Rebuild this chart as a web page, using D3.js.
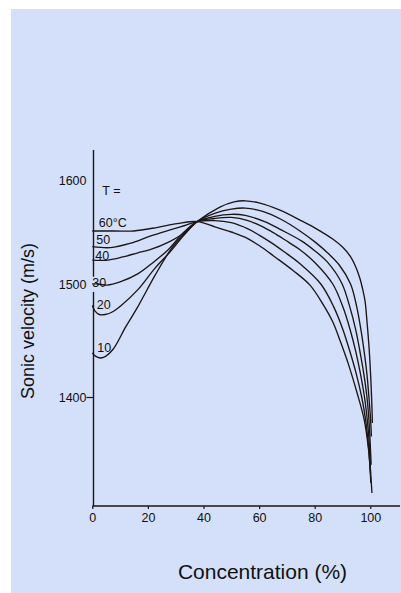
<!DOCTYPE html>
<html>
<head>
<meta charset="utf-8">
<script src="https://cdn.jsdelivr.net/npm/d3@7"></script>
<style>
  html, body { margin: 0; padding: 0; background: #ffffff; }
  svg { display: block; font-family: "Liberation Sans", Arial, sans-serif; }
</style>
</head>
<body>
<svg id="chart" width="401" height="593"></svg>
<script>
// ---- data ----
const temperatures = [10, 20, 30, 40, 50, 60];
const seriesLabels = ["10", "20", "30", "40", "50", "60\u00B0C"];
const xTicks = [0, 20, 40, 60, 80, 100];
const yTicks = [1400, 1500, 1600];

const curve10 = [[0,1439],[2,1435],[4,1435],[7.4,1442],[12,1462],[16.4,1480],[22.5,1508],[28.2,1533],[33,1548],[37.7,1560],
  [45.9,1574],[51,1579],[55,1580],[60,1578],[67.5,1571],[74.7,1561.5],[80,1554],[86.6,1543],[90,1535.5],[92.7,1527],[95,1515],
  [96.3,1505],[97.2,1496],[98.1,1485],[98.8,1467],[99.6,1442],[100.2,1415],[100.6,1390],[100.75,1377]];
const curve20 = [[0,1481],[1,1476],[2.5,1473],[4.6,1473],[7,1475],[10.4,1481],[16.4,1495],[22.5,1515],[28,1531],[33,1547],[37.7,1560],
  [44,1568],[50,1572],[55,1573],[61,1570],[68,1562],[74.7,1551],[80.3,1540],[85,1529],[88.9,1518],[92.9,1500],[95.1,1480],[96.6,1460],
  [97.8,1440],[98.8,1420],[99.5,1400],[100.1,1380],[100.4,1365]];
const curve30 = [[0,1500],[2,1500],[5.3,1499],[10,1502],[16.5,1510],[22,1521],[27.3,1533],[33,1550],[37.7,1560],
  [44,1565],[50,1567],[55,1566],[62,1560],[68,1552],[75.5,1541],[80,1532],[84.6,1521],[89.7,1501],[92.6,1480],[94.7,1460],[96.3,1440],
  [97.7,1420],[98.7,1402],[99.5,1380],[100.3,1340]];
const curve40 = [[0,1523],[5.7,1523],[11,1526],[16.4,1530],[20.8,1533],[28,1541],[33,1549],[37.7,1560],
  [44,1563],[50,1564],[56,1561],[62,1554],[66,1548],[70.7,1540],[74.7,1533],[80.3,1520],[86.5,1500],[90.1,1480],[92.7,1460],
  [94.8,1440],[96.5,1420],[97.9,1400],[98.9,1380],[99.6,1360],[100.1,1332]];
const curve50 = [[0,1536],[6.5,1535],[13.5,1539],[20.8,1546],[28,1552],[33,1556],[37.7,1560],
  [44,1561],[50,1559],[56,1553],[60,1547],[64.2,1540],[69,1531],[74.5,1520],[82.2,1500],[86.8,1480],[90.1,1460],
  [92.7,1440],[95,1420],[96.9,1400],[98.3,1380],[99.4,1355],[100.2,1324]];
const curve60 = [[0,1551],[8,1551],[15,1551],[23.5,1554.5],[30.5,1558],[37.7,1560],
  [44.1,1555],[50,1550],[54.9,1545],[60,1537],[65.7,1526],[72.2,1513],[78.3,1499],[83,1482],[86.6,1466],[89.1,1450],
  [92,1430],[95.2,1404],[97.8,1380],[99.3,1355],[100.1,1333],[100.6,1315]];
const curves = [curve10, curve20, curve30, curve40, curve50, curve60];

// ---- layout ----
const svg = d3.select("#chart");
const W = 401, H = 593;
svg.append("rect").attr("x", 0).attr("y", 0).attr("width", W).attr("height", H).attr("fill", "#ffffff");
svg.append("rect").attr("x", 11).attr("y", 9).attr("width", W - 11).attr("height", H - 9).attr("fill", "#d4dffa");

const x = d3.scaleLinear().domain([0, 100]).range([92.3, 370.3]);
const y = d3.scaleLinear().domain([1303.5, 1400, 1500, 1600, 1629]).range([506, 397, 284, 180, 150]);

const ink = "#1c1616";
const fmt = d3.format("d");

// x axis
const xAxis = d3.axisBottom(x).tickValues(xTicks).tickFormat(fmt).tickSize(3).tickPadding(4).tickSizeOuter(0);
const gx = svg.append("g").attr("transform", "translate(0,506)").call(xAxis);
gx.select(".domain").remove();
gx.selectAll(".tick line").attr("stroke", ink).attr("stroke-width", 1.2);
gx.selectAll(".tick text").attr("font-size", 12.5).attr("fill", "#111").attr("font-family", "Liberation Sans, Arial, sans-serif");
svg.append("line").attr("x1", x(0)).attr("x2", 400).attr("y1", 506).attr("y2", 506)
  .attr("stroke", ink).attr("stroke-width", 1.4);

// y axis
const yAxis = d3.axisLeft(y).tickValues(yTicks).tickFormat(fmt).tickSize(0).tickPadding(7);
const gy = svg.append("g").attr("transform", "translate(" + 93.5 + ",0)").call(yAxis);
gy.select(".domain").remove();
gy.selectAll(".tick text").attr("font-size", 12.5).attr("fill", "#111").attr("font-family", "Liberation Sans, Arial, sans-serif");
gy.selectAll(".tick").filter(d => d === 1400).append("line")
  .attr("x1", -7).attr("x2", 0).attr("stroke", ink).attr("stroke-width", 1.2);
// axis line with small gap near the 30 label
svg.append("line").attr("x1", 93.5).attr("x2", 93.5).attr("y1", y(1629)).attr("y2", y(1507))
  .attr("stroke", ink).attr("stroke-width", 1.4);
svg.append("line").attr("x1", 93.5).attr("x2", 93.5).attr("y1", y(1493)).attr("y2", 506)
  .attr("stroke", ink).attr("stroke-width", 1.4);

// curves
const line = d3.line().x(d => x(d[0])).y(d => y(d[1])).curve(d3.curveCatmullRom.alpha(0.5));
svg.append("g").selectAll("path").data(curves).join("path")
  .attr("d", line).attr("fill", "none").attr("stroke", ink).attr("stroke-width", 1.35);

// curve labels
const labelOffsets = [[5, -1], [4.5, 3.5], [0, 2.5], [3, -0.5], [4, -3], [6.5, -4]];
svg.append("g").selectAll("text").data(seriesLabels).join("text")
  .attr("x", (d, i) => x(0) + labelOffsets[i][0])
  .attr("y", (d, i) => y(curves[i][0][1]) + labelOffsets[i][1])
  .attr("font-size", 12.5).attr("fill", "#111")
  .text(d => d);
svg.append("text").attr("x", x(0) + 10).attr("y", y(1590) + 4.5)
  .attr("font-size", 12.5).attr("fill", "#111").text("T =");

// axis titles
svg.append("text").attr("x", 262.5).attr("y", 579).attr("text-anchor", "middle")
  .attr("font-size", 21).attr("fill", "#111").text("Concentration (%)");
svg.append("text").attr("transform", "translate(34,321) rotate(-90)").attr("text-anchor", "middle")
  .attr("font-size", 18).attr("fill", "#111").text("Sonic velocity (m/s)");
</script>
</body>
</html>
